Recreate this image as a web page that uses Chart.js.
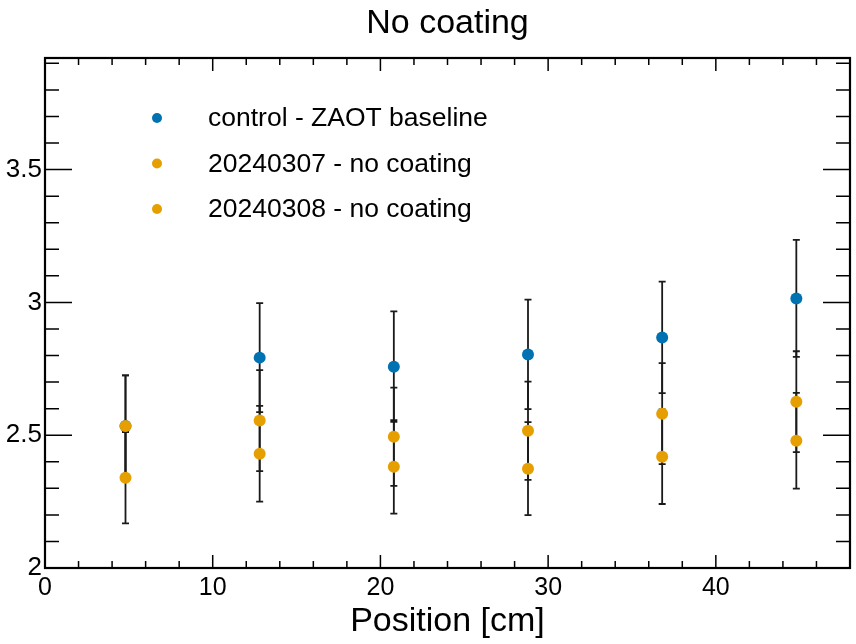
<!DOCTYPE html>
<html>
<head>
<meta charset="utf-8">
<script src="https://cdn.jsdelivr.net/npm/chart.js@4/dist/chart.umd.min.js"></script>
<style>
  html, body { margin: 0; padding: 0; background: #fff; }
  #wrap { width: 856px; height: 644px; }
</style>
</head>
<body>
<div id="wrap"><canvas id="chart" width="856" height="644"></canvas></div>
<script>
// positions along the sample (cm)
const positions = [4.8, 12.8, 20.8, 28.8, 36.8, 44.8];

const seriesLabels = ['control - ZAOT baseline', '20240307 - no coating', '20240308 - no coating'];
const seriesColors = ['#0072B2', '#E69F00', '#E69F00'];

const controlValues = [2.535, 2.792, 2.758, 2.804, 2.868, 3.015];
const controlErrors = [0.19, 0.205, 0.208, 0.206, 0.21, 0.22];

const run0307Values = [2.535, 2.555, 2.494, 2.517, 2.581, 2.626];
const run0307Errors = [0.19, 0.19, 0.185, 0.185, 0.19, 0.19];

const run0308Values = [2.34, 2.43, 2.381, 2.374, 2.419, 2.479];
const run0308Errors = [0.172, 0.18, 0.176, 0.175, 0.178, 0.18];

const xMajorTicks = [0, 10, 20, 30, 40];
const yMajorTicks = [2, 2.5, 3, 3.5];

const chartTitle = 'No coating';
const FONT = '"Liberation Sans", Arial, Helvetica, sans-serif';

function makeSet(i, values, errors, order) {
    return {
        label: seriesLabels[i],
        data: positions.map((x, k) => ({ x: x, y: values[k] })),
        errors: errors,
        backgroundColor: seriesColors[i],
        borderColor: seriesColors[i],
        pointRadius: 6,
        pointHoverRadius: 6,
        borderWidth: 0,
        showLine: false,
        order: order
    };
}

// vertical error bars with small caps, drawn under the markers
const errorBars = {
    id: 'errorBars',
    beforeDatasetsDraw(chart) {
        const ctx = chart.ctx;
        const xs = chart.scales.x, ys = chart.scales.y;
        ctx.save();
        ctx.strokeStyle = '#1a1a1a';
        ctx.lineWidth = 1.8;
        chart.data.datasets.forEach(ds => {
            ds.data.forEach((p, k) => {
                const e = ds.errors[k];
                const px = xs.getPixelForValue(p.x);
                const top = ys.getPixelForValue(p.y + e);
                const bot = ys.getPixelForValue(p.y - e);
                ctx.beginPath();
                ctx.moveTo(px, top); ctx.lineTo(px, bot);
                ctx.moveTo(px - 3.5, top); ctx.lineTo(px + 3.5, top);
                ctx.moveTo(px - 3.5, bot); ctx.lineTo(px + 3.5, bot);
                ctx.stroke();
            });
        });
        ctx.restore();
    }
};

// ROOT-like frame with inward ticks on all four sides, plus the title centred on the frame
const frameTicks = {
    id: 'frameTicks',
    afterDraw(chart) {
        const ctx = chart.ctx;
        const a = chart.chartArea;
        const xs = chart.scales.x, ys = chart.scales.y;
        ctx.save();
        ctx.strokeStyle = '#000';
        ctx.lineWidth = 1.5;
        ctx.beginPath();
        for (let v = 0; v <= xs.max + 1e-9; v += 2) {
            const px = xs.getPixelForValue(v);
            const len = (Math.round(v) % 10 === 0) ? 13 : 7;
            ctx.moveTo(px, a.bottom); ctx.lineTo(px, a.bottom - len);
            ctx.moveTo(px, a.top); ctx.lineTo(px, a.top + len);
        }
        for (let i = 0; ; i++) {
            const v = ys.min + i * 0.1;
            if (v > ys.max + 1e-9) break;
            const py = ys.getPixelForValue(v);
            const len = (i % 5 === 0) ? 27 : 14;
            ctx.moveTo(a.left, py); ctx.lineTo(a.left + len, py);
            ctx.moveTo(a.right, py); ctx.lineTo(a.right - len, py);
        }
        ctx.stroke();
        ctx.lineWidth = 2.2;
        ctx.strokeRect(a.left, a.top, a.right - a.left, a.bottom - a.top);

        ctx.fillStyle = '#000';
        ctx.font = '34px ' + FONT;
        ctx.textAlign = 'center';
        ctx.textBaseline = 'middle';
        ctx.fillText(chartTitle, (a.left + a.right) / 2, 24);
        ctx.restore();
    }
};

// legend drawn inside the frame, top-left
const innerLegend = {
    id: 'innerLegend',
    afterDraw(chart) {
        const ctx = chart.ctx;
        const a = chart.chartArea;
        ctx.save();
        ctx.font = '26.5px ' + FONT;
        ctx.textBaseline = 'middle';
        chart.data.datasets.forEach((ds, i) => {
            const y = a.top + 60 + i * 45.5;
            ctx.beginPath();
            ctx.fillStyle = ds.backgroundColor;
            ctx.arc(a.left + 112, y, 5, 0, Math.PI * 2);
            ctx.fill();
            ctx.fillStyle = '#000';
            ctx.fillText(ds.label, a.left + 163, y + 1);
        });
        ctx.restore();
    }
};

new Chart(document.getElementById('chart'), {
    type: 'scatter',
    data: {
        datasets: [
            makeSet(0, controlValues, controlErrors, 2),
            makeSet(1, run0307Values, run0307Errors, 1),
            makeSet(2, run0308Values, run0308Errors, 0)
        ]
    },
    options: {
        responsive: false,
        animation: false,
        layout: { padding: { left: 0, right: 5, top: 58, bottom: 0 } },
        plugins: {
            legend: { display: false },
            tooltip: { enabled: false },
            title: { display: false }
        },
        scales: {
            x: {
                type: 'linear',
                min: 0,
                max: 48,
                grid: { display: false, drawTicks: false },
                border: { display: false },
                afterBuildTicks: s => { s.ticks = xMajorTicks.map(v => ({ value: v })); },
                ticks: {
                    color: '#000',
                    font: { family: FONT, size: 25 },
                    padding: 5,
                    maxRotation: 0,
                    autoSkip: false
                },
                title: {
                    display: true,
                    text: 'Position [cm]',
                    color: '#000',
                    font: { family: FONT, size: 34 },
                    padding: { top: 0, bottom: 2 }
                },
                afterFit: s => { s.height = 76; }
            },
            y: {
                type: 'linear',
                min: 2,
                max: 3.92,
                grid: { display: false, drawTicks: false },
                border: { display: false },
                afterBuildTicks: s => { s.ticks = yMajorTicks.map(v => ({ value: v })); },
                ticks: {
                    color: '#000',
                    font: { family: FONT, size: 26 },
                    padding: 3,
                    autoSkip: false,
                    callback: v => String(v)
                },
                afterFit: s => { s.width = 45; }
            }
        }
    },
    plugins: [errorBars, frameTicks, innerLegend]
});
</script>
</body>
</html>
